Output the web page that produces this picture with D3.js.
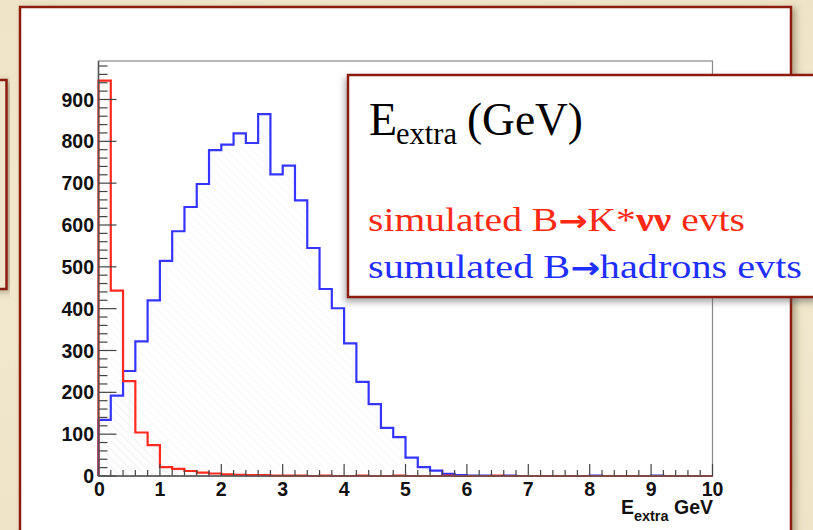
<!DOCTYPE html>
<html><head><meta charset="utf-8">
<script src="https://cdn.jsdelivr.net/npm/d3@7"></script>
<style>
html,body{margin:0;padding:0;background:#f3ebd4;}
svg{display:block;}
</style></head>
<body>
<script>
// ---- data ----
const binWidth = 0.2;
const redCounts = [945,443,227,104,74,21,17,12,8,6,
  4,3,2,2,1,1,1,0,1,0, 0,1,0,0,1,0,0,0,1,0,
  0,0,1,0,0,0,0,0,0,0, 0,0,0,0,0,0,0,0,0,0];
const blueCounts = [134,192,251,322,420,514,585,643,698,779,
  792,819,796,865,721,742,659,545,447,401,
  317,225,172,115,93,44,21,13,5,2,
  1,1,0,1,0,0,0,0,0,0, 1,0,0,0,0,1,0,0,0,0];
const xTickLabels = [0,1,2,3,4,5,6,7,8,9,10];
const yTickLabels = [0,100,200,300,400,500,600,700,800,900];
const legendTitle = ["E","extra","(GeV)"];
const legendRed = ["simulated B","\u2192","K*","\u03BD\u03BD"," evts"];
const legendBlue = ["sumulated B","\u2192","hadrons evts"];
const xTitle = ["E","extra"," GeV"];

const W = 813, H = 530;
const svg = d3.select("body").append("svg").attr("width", W).attr("height", H);
const defs = svg.append("defs");

const bg = defs.append("radialGradient").attr("id","bgG").attr("cx","50%").attr("cy","50%").attr("r","75%");
bg.append("stop").attr("offset","0%").attr("stop-color","#f5eed9");
bg.append("stop").attr("offset","100%").attr("stop-color","#eee3c6");
svg.append("rect").attr("width",W).attr("height",H).attr("fill","url(#bgG)");

const sh = defs.append("filter").attr("id","shR").attr("x","-10%").attr("y","-10%").attr("width","130%").attr("height","130%");
sh.append("feDropShadow").attr("dx",4).attr("dy",2).attr("stdDeviation",3).attr("flood-color","#6b5a3a").attr("flood-opacity",0.45);
const sh2 = defs.append("filter").attr("id","shL").attr("x","-10%").attr("y","-10%").attr("width","130%").attr("height","130%");
sh2.append("feDropShadow").attr("dx",-2).attr("dy",4).attr("stdDeviation",3).attr("flood-color","#555").attr("flood-opacity",0.5);

const hatch = defs.append("pattern").attr("id","hatch").attr("patternUnits","userSpaceOnUse")
  .attr("width",6).attr("height",6).attr("patternTransform","rotate(-45)");
hatch.append("line").attr("x1",0).attr("y1",0).attr("x2",0).attr("y2",6)
  .attr("stroke","#eeeef4").attr("stroke-width",1);

const darkRed = "#8c1a10";

svg.append("rect").attr("x",-10).attr("y",80).attr("width",16.5).attr("height",209)
  .attr("fill","#efe6cc").attr("stroke",darkRed).attr("stroke-width",2.5).attr("filter","url(#shR)");

svg.append("rect").attr("x",20).attr("y",7).attr("width",771).attr("height",540)
  .attr("fill","#ffffff").attr("stroke",darkRed).attr("stroke-width",2.5).attr("filter","url(#shR)");

// ---- scales ----
const x = d3.scaleLinear().domain([0,10]).range([98.5,712.5]);
const y = d3.scaleLinear().domain([0,992]).range([476,61]);

svg.append("rect").attr("x",x(0)).attr("y",y(992)).attr("width",x(10)-x(0)).attr("height",y(0)-y(992))
  .attr("fill","none").attr("stroke","#8a8a8a").attr("stroke-width",1.2);

function pts(counts){
  const p = counts.map((v,i)=>[i*binWidth, v]);
  p.push([10, counts[counts.length-1]]);
  return p;
}
const area = d3.area().x(d=>x(d[0])).y0(y(0)).y1(d=>y(d[1])).curve(d3.curveStepAfter);
const line = d3.line().x(d=>x(d[0])).y(d=>y(d[1])).curve(d3.curveStepAfter);

svg.append("path").attr("d", area(pts(blueCounts))).attr("fill","url(#hatch)");
svg.append("path").attr("d", area(pts(redCounts))).attr("fill","url(#hatch)");

function stepPath(counts){
  return line([[0,0]].concat(pts(counts)));
}
svg.append("path").attr("d", stepPath(blueCounts)).attr("fill","none").attr("stroke","#3535ff").attr("stroke-width",2.2);
svg.append("path").attr("d", stepPath(redCounts)).attr("fill","none").attr("stroke","#ff2a1f").attr("stroke-width",2.2);

// ---- axes ----
const axisG = svg.append("g");
const yMinor = d3.range(0, 992, 20);
axisG.selectAll(".ym").data(yMinor).enter().append("line")
  .attr("x1",x(0)).attr("x2",d=> d%100===0 ? x(0)+18 : x(0)+9)
  .attr("y1",d=>y(d)).attr("y2",d=>y(d)).attr("stroke","#444").attr("stroke-width",1.2);
const xMinor = d3.range(0, 51).map(i=>i*binWidth);
axisG.selectAll(".xm").data(xMinor).enter().append("line")
  .attr("x1",d=>x(d)).attr("x2",d=>x(d))
  .attr("y1",y(0)).attr("y2",(d,i)=> i%5===0 ? y(0)-12 : y(0)-6)
  .attr("stroke","#444").attr("stroke-width",1.2);
axisG.append("line").attr("x1",x(0)).attr("x2",x(0)).attr("y1",y(0)).attr("y2",y(992)).attr("stroke","#555").attr("stroke-width",1.5);
axisG.append("line").attr("x1",x(0)).attr("x2",x(10)).attr("y1",y(0)).attr("y2",y(0)).attr("stroke","#555").attr("stroke-width",1.5);

const lblFont = "'Liberation Sans', Arial, sans-serif";
axisG.selectAll(".yl").data(yTickLabels).enter().append("text")
  .attr("x",94).attr("y",d=>y(d)).attr("dy","0.36em").attr("text-anchor","end")
  .attr("font-family",lblFont).attr("font-weight","bold").attr("font-size",19.5).attr("fill","#111")
  .text(d=>d);
axisG.selectAll(".xl").data(xTickLabels).enter().append("text")
  .attr("x",d=>x(d)+(d===0?1:0)).attr("y",496).attr("text-anchor","middle")
  .attr("font-family",lblFont).attr("font-weight","bold").attr("font-size",19.5).attr("fill","#111")
  .text(d=>d);

const xt = svg.append("text").attr("x",713).attr("y",514).attr("text-anchor","end")
  .attr("font-family",lblFont).attr("font-weight","bold").attr("font-size",19.5).attr("fill","#111");
xt.append("tspan").text(xTitle[0]);
xt.append("tspan").attr("font-size",14.5).attr("dy",7).text(xTitle[1]);
xt.append("tspan").attr("dy",-7).text("\u00A0GeV");

// ---- legend box ----
svg.append("rect").attr("x",348).attr("y",75).attr("width",480).attr("height",222)
  .attr("fill","#ffffff").attr("stroke",darkRed).attr("stroke-width",2.5).attr("filter","url(#shL)");
const serif = "'Liberation Serif', 'Times New Roman', serif";
const arrowFont = "'DejaVu Sans', sans-serif";
svg.append("text").attr("x",369).attr("y",135).attr("font-family",serif).attr("font-size",46).attr("fill","#000").text(legendTitle[0]);
svg.append("text").attr("x",396).attr("y",144).attr("font-family",serif).attr("font-size",31).attr("fill","#000")
  .attr("textLength",61).attr("lengthAdjust","spacingAndGlyphs").text(legendTitle[1]);
svg.append("text").attr("x",467).attr("y",135).attr("font-family",serif).attr("font-size",46).attr("fill","#000")
  .attr("textLength",116).attr("lengthAdjust","spacingAndGlyphs").text(legendTitle[2]);

const rt = svg.append("text").attr("x",368).attr("y",231).attr("font-family",serif).attr("font-size",34).attr("fill","#ff2a14")
  .attr("textLength",377).attr("lengthAdjust","spacingAndGlyphs");
rt.append("tspan").text(legendRed[0]);
rt.append("tspan").attr("font-family",arrowFont).attr("font-weight","bold").attr("font-size",30).text(legendRed[1]);
rt.append("tspan").text(legendRed[2]);
rt.append("tspan").attr("font-weight","bold").text(legendRed[3]);
rt.append("tspan").text("\u00A0evts");
const bt = svg.append("text").attr("x",368).attr("y",278).attr("font-family",serif).attr("font-size",34).attr("fill","#1f2fff")
  .attr("textLength",434).attr("lengthAdjust","spacingAndGlyphs");
bt.append("tspan").text(legendBlue[0]);
bt.append("tspan").attr("font-family",arrowFont).attr("font-weight","bold").attr("font-size",30).text(legendBlue[1]);
bt.append("tspan").text(legendBlue[2]);
</script>
</body></html>
